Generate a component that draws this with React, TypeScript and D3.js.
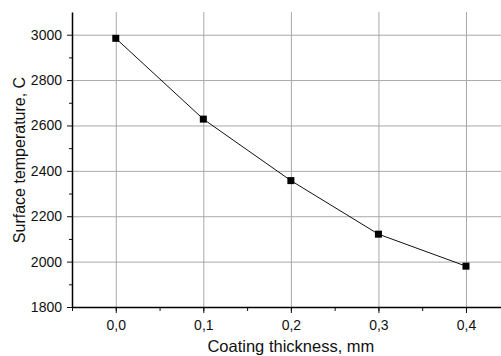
import { useEffect, useRef } from "react";
import * as d3 from "d3";

const thickness = [0.0, 0.1, 0.2, 0.3, 0.4];
const temperature = [2984, 2628, 2357, 2121, 1980];
const xTicks = [0.0, 0.1, 0.2, 0.3, 0.4];
const yTicks = [1800, 2000, 2200, 2400, 2600, 2800, 3000];

const width = 501;
const height = 356;
const margin = { top: 12, right: 0, bottom: 49, left: 72 };
const font = "Liberation Sans, Arial, sans-serif";

export default function App() {
  const svgRef = useRef<SVGSVGElement>(null);

  useEffect(() => {
    const svg = d3.select(svgRef.current);
    svg.selectAll("*").remove();

    const innerW = width - margin.left - margin.right;
    const innerH = height - margin.top - margin.bottom;

    const x = d3.scaleLinear().domain([-0.05, 0.44]).range([0, innerW]);
    const y = d3.scaleLinear().domain([1800, 3100]).range([innerH, 0]);

    const g = svg
      .append("g")
      .attr("transform", `translate(${margin.left},${margin.top})`);

    // grid
    g.append("g")
      .selectAll("line")
      .data(xTicks)
      .join("line")
      .attr("x1", (d) => x(d) + 0.5)
      .attr("x2", (d) => x(d) + 0.5)
      .attr("y1", 0)
      .attr("y2", innerH)
      .attr("stroke", "#a8a8a8")
      .attr("stroke-width", 1);

    g.append("g")
      .selectAll("line")
      .data(yTicks.filter((d) => d > 1800))
      .join("line")
      .attr("x1", 0)
      .attr("x2", innerW)
      .attr("y1", (d) => y(d) + 0.5)
      .attr("y2", (d) => y(d) + 0.5)
      .attr("stroke", "#a8a8a8")
      .attr("stroke-width", 1);

    // x axis
    const xMinor = d3.range(-0.05, 0.44, 0.05).map((d) => +d.toFixed(2));
    g.append("g")
      .attr("transform", `translate(0,${innerH})`)
      .call(
        d3
          .axisBottom(x)
          .tickValues(xMinor)
          .tickSize(4)
          .tickFormat(() => "")
      )
      .select(".domain")
      .remove();
    g.append("g")
      .attr("transform", `translate(0,${innerH})`)
      .call(
        d3
          .axisBottom(x)
          .tickValues(xTicks)
          .tickSize(6)
          .tickSizeOuter(0)
          .tickPadding(7)
          .tickFormat((d) => d3.format(".1f")(d as number).replace(".", ","))
      )
      .call((a) => a.select(".domain").attr("stroke-width", 1.5));

    // y axis
    const yMinor = d3.range(1900, 3100, 200);
    g.append("g")
      .call(
        d3
          .axisLeft(y)
          .tickValues(yMinor)
          .tickSize(3)
          .tickFormat(() => "")
      )
      .select(".domain")
      .remove();
    g.append("g")
      .call(
        d3
          .axisLeft(y)
          .tickValues(yTicks)
          .tickSize(5)
          .tickSizeOuter(0)
          .tickPadding(5)
          .tickFormat((d) => String(d))
      )
      .call((a) => a.select(".domain").attr("stroke-width", 1.5));

    g.selectAll(".tick text")
      .attr("font-family", font)
      .attr("font-size", 14)
      .attr("fill", "#111");
    g.selectAll(".tick line").attr("stroke", "#111");

    // line + markers
    const pts = thickness.map((t, i) => [t, temperature[i]] as [number, number]);
    const line = d3
      .line<[number, number]>()
      .x((d) => x(d[0]))
      .y((d) => y(d[1]));
    g.append("path")
      .datum(pts)
      .attr("d", line)
      .attr("fill", "none")
      .attr("stroke", "#111")
      .attr("stroke-width", 1);

    g.selectAll("rect.pt")
      .data(pts)
      .join("rect")
      .attr("class", "pt")
      .attr("x", (d) => x(d[0]) - 3.5)
      .attr("y", (d) => y(d[1]) - 3.5)
      .attr("width", 7)
      .attr("height", 7)
      .attr("fill", "#000");

    // axis titles
    svg
      .append("text")
      .attr("x", margin.left + x(0.2))
      .attr("y", 352)
      .attr("text-anchor", "middle")
      .attr("font-family", font)
      .attr("font-size", 16.5)
      .attr("fill", "#111")
      .text("Coating thickness, mm");

    svg
      .append("text")
      .attr("transform", `translate(25,160) rotate(-90)`)
      .attr("text-anchor", "middle")
      .attr("font-family", font)
      .attr("font-size", 16)
      .attr("fill", "#111")
      .text("Surface temperature, C");
  }, []);

  return (
    <svg
      ref={svgRef}
      width={width}
      height={height}
      style={{ position: "absolute", left: 0, top: 0, background: "#fff" }}
    />
  );
}
